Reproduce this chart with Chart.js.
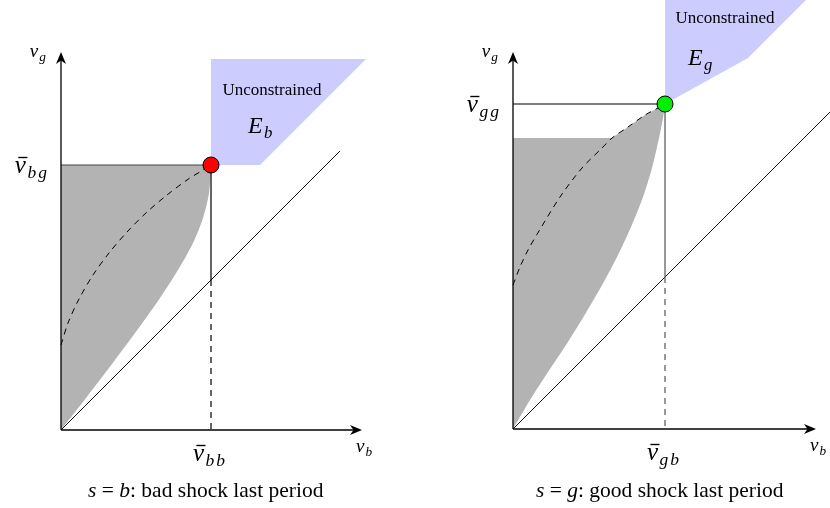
<!DOCTYPE html>
<html>
<head>
<meta charset="utf-8">
<script src="https://cdn.jsdelivr.net/npm/chart.js@4/dist/chart.umd.min.js"></script>
<style>
  html, body { margin: 0; padding: 0; background: #fff; }
  canvas { display: block; }
</style>
</head>
<body>
<canvas id="c" width="830" height="508"></canvas>
<script>
// ---------- s = b : bad shock last period ----------
const bVbb = 1.50;                 // \bar v_{bb}
const bVbg = 2.65;                 // \bar v_{bg}
// lower frontier of the shaded set, from the kink down to the origin
const bEdgeX = [1.50, 1.48, 1.42, 1.32, 1.17, 0.99, 0.77, 0.51, 0.25, 0.00];
const bEdgeY = [2.65, 2.37, 2.12, 1.87, 1.60, 1.32, 1.01, 0.66, 0.32, 0.00];
// dashed curve ending at the kink
const bDashX = [0.00, 0.07, 0.18, 0.32, 0.48, 0.66, 0.86, 1.06, 1.26, 1.42, 1.50];
const bDashY = [0.85, 1.07, 1.31, 1.55, 1.77, 1.98, 2.18, 2.35, 2.50, 2.60, 2.65];
// unconstrained region E_b
const bUnconX = [1.50, 3.05, 1.99, 1.50];
const bUnconY = [3.71, 3.71, 2.65, 2.65];
const bAxisMax = [3.01, 3.78];     // [v_b, v_g] reach of the axes
const bDiagEnd = 2.79;

// ---------- s = g : good shock last period ----------
const gVgb = 1.52;                 // \bar v_{gb}
const gVgg = 3.25;                 // \bar v_{gg}
const gCap = 2.91;                 // flat top of the shaded set
const gEdgeX = [1.52, 1.50, 1.46, 1.39, 1.30, 1.18, 1.04, 0.88, 0.71, 0.53, 0.35, 0.17, 0.00];
const gEdgeY = [3.25, 3.11, 2.91, 2.61, 2.32, 2.02, 1.72, 1.42, 1.13, 0.84, 0.57, 0.29, 0.00];
const gDashX = [0.00, 0.07, 0.15, 0.26, 0.47, 0.69, 0.89, 0.99, 1.15, 1.32, 1.45, 1.52];
const gDashY = [1.44, 1.62, 1.79, 1.98, 2.32, 2.61, 2.81, 2.91, 3.02, 3.14, 3.21, 3.25];
const gUnconX = [1.52, 1.52, 3.14, 2.35];
const gUnconY = [3.25, 4.50, 4.50, 3.71];
const gAxisMax = [3.03, 3.77];
const gDiagEnd = 3.30;

// ---------- layout ----------
const W = 830, H = 508, PPU = 100;            // pixels per unit, equal on both axes
const ORIGIN = { L: [61, 430], R: [513, 429] };
const CURVE = 0.3;                            // spline tension for the curved edges

const pt = (x, y) => ({ x, y });
const pts = (xs, ys) => xs.map((x, i) => pt(x, ys[i]));
const seg = (x0, y0, x1, y1) => [pt(x0, y0), pt(x1, y1)];
const corner = p => [p, { x: p.x, y: p.y }];   // repeated vertex keeps a sharp corner under tension

function ds(panel, data, opts) {
  return Object.assign({
    xAxisID: 'x' + panel, yAxisID: 'y' + panel,
    data, showLine: true, pointRadius: 0, pointHoverRadius: 0,
    borderWidth: 1, borderColor: '#000', backgroundColor: 'transparent',
    fill: false, tension: 0
  }, opts);
}

function panelDatasets(p, v) {
  const gray = '#b3b3b3', blue = '#ccccff';
  return [
    ds(p, v.shade, { fill: 'shape', tension: CURVE, backgroundColor: gray, borderColor: 'transparent', borderWidth: 0, order: 20 }),
    ds(p, v.uncon, { fill: 'shape', backgroundColor: blue, borderColor: 'transparent', borderWidth: 0, order: 19 }),
    ds(p, seg(0, 0, v.diag, v.diag), { borderWidth: 0.9, order: 10 }),
    ds(p, seg(0, v.vy, v.vx, v.vy), { borderColor: v.hColor, borderWidth: 1.2, order: 9 }),
    ds(p, seg(v.vx, v.vy, v.vx, v.vx), { borderColor: v.vColor, borderWidth: 1.2, order: 9 }),
    ds(p, seg(v.vx, v.vx, v.vx, 0), { borderColor: v.vColor, borderWidth: 1.2, borderDash: [6, 5], order: 9 }),
    ds(p, v.dash, { borderWidth: 1, borderDash: [6, 5], tension: CURVE, order: 8 }),
    ds(p, seg(0, 0, v.axis[0] - 0.05, 0), { borderWidth: 1.3, order: 5 }),
    ds(p, seg(0, 0, 0, v.axis[1] - 0.05), { borderWidth: 1.3, order: 5 }),
    ds(p, [pt(v.vx, v.vy)], {
      showLine: false, pointRadius: 8, pointHoverRadius: 8,
      pointBackgroundColor: v.dot, pointBorderColor: '#000', pointBorderWidth: 1, order: 1
    })
  ];
}

// shaded sets as closed outlines
const bShade = [pt(0, 0)].concat(
  corner(pt(0, bVbg)),
  corner(pt(bVbb, bVbg)),
  pts(bEdgeX, bEdgeY).slice(1)
);
const gTop = pts(gDashX, gDashY).filter(p => p.y > gCap && p.y < gVgg);
const gShade = [pt(0, 0)].concat(
  corner(pt(0, gCap)),
  corner(pt(gDashX[gDashY.indexOf(gCap)], gCap)),
  gTop,
  corner(pt(gVgb, gVgg)),
  pts(gEdgeX, gEdgeY).slice(1)
);

const datasets = [].concat(
  panelDatasets('L', { shade: bShade, uncon: pts(bUnconX, bUnconY), diag: bDiagEnd, vx: bVbb, vy: bVbg,
    dash: pts(bDashX, bDashY), axis: bAxisMax, dot: '#ff0000', hColor: '#444', vColor: '#000' }),
  panelDatasets('R', { shade: gShade, uncon: pts(gUnconX, gUnconY), diag: gDiagEnd, vx: gVgb, vy: gVgg,
    dash: pts(gDashX, gDashY), axis: gAxisMax, dot: '#00ee00', hColor: '#000', vColor: '#555' })
);

function scalePair(o) {
  return {
    x: { type: 'linear', axis: 'x', display: false, min: -o[0] / PPU, max: (W - o[0]) / PPU },
    y: { type: 'linear', axis: 'y', display: false, min: -(H - o[1]) / PPU, max: o[1] / PPU }
  };
}
const sL = scalePair(ORIGIN.L), sR = scalePair(ORIGIN.R);

// ---------- text and arrow helpers ----------
const SERIF = '"Liberation Serif", "Times New Roman", serif';

function mathVar(ctx, base, sub, x, y, size, align, bar) {
  const subSize = size * 0.7;
  const gap = subSize * 0.12;
  ctx.font = `italic ${size}px ${SERIF}`;
  const wb = ctx.measureText(base).width;
  ctx.font = `italic ${subSize}px ${SERIF}`;
  const chars = [...sub];
  const ws = chars.reduce((s, c) => s + ctx.measureText(c).width, 0) + gap * (chars.length - 1);
  const lead = size * 0.06;
  const total = wb + lead + ws;
  const x0 = align === 'center' ? x - total / 2 : align === 'right' ? x - total : x;
  ctx.fillStyle = '#000';
  ctx.textAlign = 'left';
  ctx.textBaseline = 'alphabetic';
  ctx.font = `italic ${size}px ${SERIF}`;
  ctx.fillText(base, x0, y);
  if (bar) {
    ctx.strokeStyle = '#000';
    ctx.lineWidth = Math.max(1, size * 0.055);
    ctx.beginPath();
    ctx.moveTo(x0 + size * 0.14, y - size * 0.62);
    ctx.lineTo(x0 + wb + size * 0.06, y - size * 0.62);
    ctx.stroke();
  }
  ctx.font = `italic ${subSize}px ${SERIF}`;
  let xs = x0 + wb + lead;
  for (const c of chars) {
    ctx.fillText(c, xs, y + size * 0.2);
    xs += ctx.measureText(c).width + gap;
  }
}

function richLine(ctx, parts, x, y, size) {
  const fontOf = p => `${p.it ? 'italic ' : ''}${size}px ${SERIF}`;
  ctx.textAlign = 'left';
  ctx.textBaseline = 'alphabetic';
  ctx.fillStyle = '#000';
  for (const p of parts) { ctx.font = fontOf(p); ctx.fillText(p.t, x, y); x += ctx.measureText(p.t).width; }
}

function arrowHead(ctx, x, y, angle) {
  ctx.save();
  ctx.translate(x, y);
  ctx.rotate(angle);
  ctx.fillStyle = '#000';
  ctx.beginPath();
  ctx.moveTo(0, 0);
  ctx.lineTo(-12, -5);
  ctx.lineTo(-8.5, 0);
  ctx.lineTo(-12, 5);
  ctx.closePath();
  ctx.fill();
  ctx.restore();
}

const annotations = {
  id: 'annotations',
  afterDatasetsDraw(chart) {
    const ctx = chart.ctx;
    const panels = [
      { xs: chart.scales.xL, ys: chart.scales.yL, axis: bAxisMax, vx: bVbb, vy: bVbg,
        xSub: 'bb', ySub: 'bg', E: 'b', uncon: [2.11, 3.35], eAt: [1.87, 2.97],
        caption: [{ t: 's', it: true }, { t: ' = ', it: false }, { t: 'b', it: true }, { t: ': bad shock last period', it: false }],
        capX: 0.27 },
      { xs: chart.scales.xR, ys: chart.scales.yR, axis: gAxisMax, vx: gVgb, vy: gVgg,
        xSub: 'gb', ySub: 'gg', E: 'g', uncon: [2.12, 4.06], eAt: [1.75, 3.64],
        caption: [{ t: 's', it: true }, { t: ' = ', it: false }, { t: 'g', it: true }, { t: ': good shock last period', it: false }],
        capX: 0.23 }
    ];
    ctx.save();
    for (const p of panels) {
      const X = v => p.xs.getPixelForValue(v), Y = v => p.ys.getPixelForValue(v);
      // axis arrows
      arrowHead(ctx, X(p.axis[0]), Y(0), 0);
      arrowHead(ctx, X(0), Y(p.axis[1]), -Math.PI / 2);
      // axis names
      mathVar(ctx, 'v', 'g', X(0) - 15, Y(p.axis[1]) + 5, 19, 'right', false);
      mathVar(ctx, 'v', 'b', X(p.axis[0]) - 6, Y(0) + 22, 19, 'left', false);
      // threshold labels
      mathVar(ctx, 'v', p.ySub, X(0) - 14, Y(p.vy) + 8, 25, 'right', true);
      mathVar(ctx, 'v', p.xSub, X(p.vx) - 2, Y(0) + 31, 25, 'center', true);
      // unconstrained region text
      ctx.font = `17px ${SERIF}`;
      ctx.fillStyle = '#000';
      ctx.textAlign = 'center';
      ctx.textBaseline = 'alphabetic';
      ctx.fillText('Unconstrained', X(p.uncon[0]), Y(p.uncon[1]));
      mathVar(ctx, 'E', p.E, X(p.eAt[0]), Y(p.eAt[1]), 24, 'left', false);
      // caption
      richLine(ctx, p.caption, X(p.capX), 497, 21.5);
    }
    ctx.restore();
  }
};

new Chart(document.getElementById('c'), {
  type: 'scatter',
  data: { datasets },
  options: {
    responsive: false,
    animation: false,
    events: [],
    layout: { padding: 0, autoPadding: false },
    plugins: { legend: { display: false }, tooltip: { enabled: false } },
    scales: { xL: sL.x, yL: sL.y, xR: sR.x, yR: sR.y }
  },
  plugins: [annotations]
});
</script>
</body>
</html>
